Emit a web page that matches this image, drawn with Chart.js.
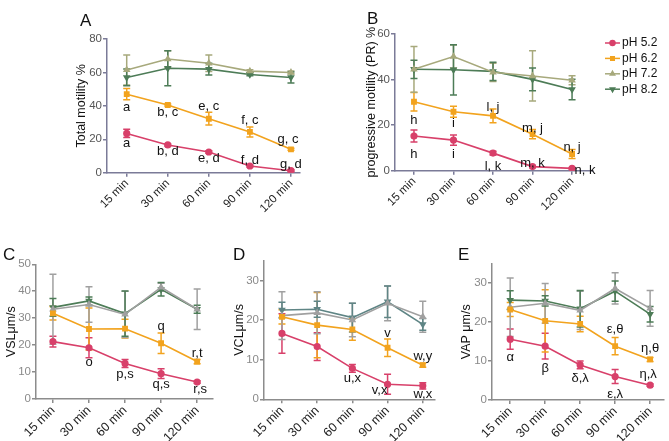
<!DOCTYPE html>
<html>
<head>
<meta charset="utf-8">
<script src="https://cdn.jsdelivr.net/npm/chart.js@4.4.0/dist/chart.umd.min.js"></script>
<style>
  body { margin: 0; background: #fff; width: 669px; height: 441px; position: relative; overflow: hidden; }
  canvas { position: absolute; }
</style>
</head>
<body>
<canvas id="chartA"></canvas>
<canvas id="chartB"></canvas>
<canvas id="chartC"></canvas>
<canvas id="chartD"></canvas>
<canvas id="chartE"></canvas>
<script>
// sperm motility vs time at 4 pH levels, 5 panels
const timeLabels = ['15 min', '30 min', '60 min', '90 min', '120 min'];
const groups = ['pH 5.2', 'pH 6.2', 'pH 7.2', 'pH 8.2'];

// A - total motility %
const total52 = [23.5, 16.6, 12.4, 4.0, 1.2];
const total52Err = [2.5, 0.6, 0.8, 0.6, 0.5];
const total62 = [47, 40.5, 32.3, 24.4, 14];
const total62Err = [3.4, 0.6, 3.8, 3, 0.6];
const total72 = [61.5, 68, 65.5, 60.8, 60];
const total72Err = [9, 5, 5, 0.8, 0.8];
const total82 = [57, 62.5, 62, 58.8, 57];
const total82Err = [5, 10.5, 3.5, 0.8, 3.3];
const totalNotes = [[0, 39.1, 'a'], [1, 35.9, 'b, c'], [2, 39.5, 'e, c'], [3, 31.1, 'f, c'], [4, 20, 'g, c', -3],
  [0, 17.6, 'a'], [1, 12.6, 'b, d'], [2, 8.6, 'e, d'], [3, 7.6, 'f, d'], [4, 5, 'g, d']];

// B - progressive motility (PR) %
const pr52 = [15.2, 13.4, 7.7, 1.8, 1.0];
const pr52Err = [2.6, 2.2, 0.8, 0.5, 0.3];
const pr62 = [30.2, 25.8, 24, 16, 7.3];
const pr62Err = [4, 2.4, 3, 2, 2];
const pr72 = [44.4, 50, 43.1, 41.5, 39.6];
const pr72Err = [10, 5, 4, 11, 2];
const pr82 = [44.4, 44.2, 43.5, 40, 35.6];
const pr82Err = [4, 11, 4, 5, 4.5];
const prNotes = [[0, 22.2, 'h'], [1, 20.7, 'i'], [2, 27.7, 'l, j'], [3, 18.4, 'm, j'], [4, 10.2, 'n, j'],
  [0, 7.2, 'h'], [1, 7.2, 'i'], [2, 1.75, 'l, k'], [3, 3.2, 'm, k'], [4, 0, 'n, k', 13]];

// C - VSL
const vsl52 = [21.3, 19, 13.2, 9.4, 6.3];
const vsl52Err = [2, 3.7, 1.5, 1.8, 0.5];
const vsl62 = [31.8, 26, 26.1, 20.7, 13.9];
const vsl62Err = [2.5, 7.8, 3.5, 3.8, 0.8];
const vsl72 = [33.3, 35.1, 31.4, 41.5, 33.3];
const vsl72Err = [13, 6.6, 8.6, 1.5, 7.5];
const vsl82 = [34, 36.4, 31.7, 40.7, 33.3];
const vsl82Err = [3.3, 1.5, 8.4, 2.5, 1.5];
const vslNotes = [[1, 13.6, 'o'], [2, 9.3, 'p,s'], [3, 27.1, 'q'], [3, 5.4, 'q,s'], [4, 17, 'r,t'], [4, 3.7, 'r,s', 3]];

// D - VCL
const vcl52 = [16.6, 13.3, 7.8, 3.8, 3.4];
const vcl52Err = [5, 3.5, 1, 2.5, 0.8];
const vcl62 = [20.8, 18.7, 17.6, 13, 8.6];
const vcl62Err = [1.8, 8.2, 2.7, 2.2, 0.5];
const vcl72 = [21.1, 21.8, 20, 24.2, 20.8];
const vcl72Err = [6, 5.3, 4.2, 4.4, 3.9];
const vcl82 = [22.5, 22.7, 20.6, 24.6, 18.9];
const vcl82Err = [2, 2, 3.6, 4, 1.5];
const vclNotes = [[3, 16.6, 'v'], [4, 10.8, 'w,y'], [2, 5.3, 'u,x'], [3, 2.35, 'v,x', -8], [4, 1.35, 'w,x']];

// E - VAP
const vap52 = [15.6, 13.8, 9, 6, 3.8];
const vap52Err = [2.6, 3.3, 1, 1.8, 0.3];
const vap62 = [23.2, 20.3, 19.5, 13.8, 10.4];
const vap62Err = [1.8, 8, 2, 2.2, 0.5];
const vap72 = [23.8, 24.8, 23, 28.6, 23.5];
const vap72Err = [7.5, 5.1, 4.9, 4, 4.6];
const vap82 = [25.6, 25.4, 23.4, 27.9, 22];
const vap82Err = [2.4, 1.3, 4.7, 2.6, 2];
const vapNotes = [[0, 10.9, 'α'], [1, 8, 'β'], [2, 5.6, 'δ,λ'], [3, 18, 'ε,θ'], [3, 1.5, 'ε,λ'], [4, 13.2, 'η,θ'], [4, 6.6, 'η,λ', -2]];

const RED = '#d8406a', ORANGE = '#f2a31e', OLIVE = '#a7a97c', GREEN = '#4d7c57', GRAY = '#a0a0a0', TEAL = '#5f8585';
const FONT = '"Liberation Sans", Arial, sans-serif';
Chart.defaults.font.family = FONT;

// vertical error bars with caps, colour of the line
const errorBars = {
  id: 'errorBars',
  beforeDatasetsDraw(chart) {
    const ctx = chart.ctx;
    const ys = chart.scales.y;
    chart.data.datasets.forEach((ds, i) => {
      if (!ds.err) return;
      const meta = chart.getDatasetMeta(i);
      ctx.save();
      ctx.strokeStyle = ds.borderColor;
      ctx.lineWidth = 1.5;
      meta.data.forEach((pt, j) => {
        const v = ds.raw[j];
        const top = ys.getPixelForValue(v + ds.err[j]);
        const bot = ys.getPixelForValue(Math.max(v - ds.err[j], 0));
        ctx.beginPath();
        ctx.moveTo(pt.x, top); ctx.lineTo(pt.x, bot);
        ctx.moveTo(pt.x - 3.5, top); ctx.lineTo(pt.x + 3.5, top);
        ctx.moveTo(pt.x - 3.5, bot); ctx.lineTo(pt.x + 3.5, bot);
        ctx.stroke();
      });
      ctx.restore();
    });
  }
};

function notesPlugin(notes, letter, legend) {
  return {
    id: 'notes',
    afterDraw(chart) {
      const ctx = chart.ctx;
      const xs = chart.scales.x, ys = chart.scales.y;
      ctx.save();
      ctx.fillStyle = '#111';
      ctx.font = '13px ' + FONT;
      ctx.textAlign = 'center';
      ctx.textBaseline = 'middle';
      notes.forEach(n => {
        ctx.fillText(n[2], xs.getPixelForValue(n[0]) + (n[3] || 0), ys.getPixelForValue(n[1]));
      });
      ctx.font = '17px ' + FONT;
      ctx.textAlign = 'left';
      ctx.fillText(letter[0], letter[1], letter[2]);
      if (legend) {
        ctx.font = '12px ' + FONT;
        chart.data.datasets.forEach((ds, i) => {
          const y = legend.y + i * 15.4;
          ctx.strokeStyle = ds.borderColor;
          ctx.fillStyle = ds.borderColor;
          ctx.lineWidth = 1.5;
          ctx.beginPath();
          ctx.moveTo(legend.x, y); ctx.lineTo(legend.x + 15, y);
          ctx.stroke();
          Chart.helpers.drawPoint(ctx, {
            pointStyle: ds.pointStyle, rotation: ds.pointRotation || 0,
            radius: 2.5, borderWidth: 1
          }, legend.x + 7.5, y);
          ctx.fillStyle = '#111';
          ctx.fillText(ds.label, legend.x + 17, y);
        });
      }
      ctx.restore();
    }
  };
}

function series(label, data, err, color, style, rot) {
  return {
    label, data, err,
    borderColor: color, backgroundColor: color,
    pointStyle: style, pointRotation: rot || 0,
    pointRadius: style === 'rect' ? 3 : 2.8,
    borderWidth: 1.6, tension: 0
  };
}

function buildPanel(cfg) {
  const [cx, cy, cw, ch] = cfg.box;
  const [l, t, r, b] = cfg.area;
  const canvas = document.getElementById(cfg.id);
  canvas.width = cw; canvas.height = ch;
  canvas.style.left = cx + 'px'; canvas.style.top = cy + 'px';
  const yWidth = l - cx, xHeight = cy + ch - b;
  if (cfg.legend) cfg.legend = { x: cfg.legend.x - cx, y: cfg.legend.y - cy };

  new Chart(canvas, {
    type: 'line',
    data: { datasets: cfg.series.map(s => ({ ...s, raw: s.data, data: s.data.map((v, i) => ({ x: i, y: v })) })) },
    options: {
      responsive: false,
      animation: false,
      layout: { padding: { left: 0, top: t - cy, right: cx + cw - r, bottom: 0 } },
      plugins: { legend: { display: false }, tooltip: { enabled: false } },
      scales: {
        x: {
          type: 'linear', min: cfg.xMin, max: cfg.xMax,
          afterBuildTicks: s => { s.ticks = timeLabels.map((_, i) => ({ value: i })); },
          afterFit: s => { s.height = xHeight; },
          ticks: {
            callback: v => timeLabels[v], minRotation: 45, maxRotation: 45,
            color: '#222', font: { size: cfg.xFont }, padding: 0
          },
          grid: { drawOnChartArea: false, tickLength: 4, color: cfg.axisColor, lineWidth: 1.5 },
          border: { color: cfg.axisColor, width: 1.5 }
        },
        y: {
          min: 0, max: cfg.yMax,
          afterBuildTicks: s => {
            const out = [];
            for (let v = 0; v <= cfg.yMax; v += cfg.yStep) out.push({ value: v });
            s.ticks = out;
          },
          afterFit: s => { s.width = yWidth; },
          ticks: { color: cfg.tickColor, font: { size: 11.5 }, padding: 1 },
          grid: { drawOnChartArea: false, tickLength: 4, color: cfg.axisColor, lineWidth: 1.5 },
          border: { color: cfg.axisColor, width: 1.5 },
          title: { display: true, text: cfg.yTitle, color: '#111', font: { size: 12.5 }, padding: { top: 2, bottom: 2 } }
        }
      }
    },
    plugins: [errorBars, notesPlugin(cfg.notes, [cfg.letter[0], cfg.letter[1] - cx, cfg.letter[2] - cy], cfg.legend)]
  });
}

// A and B use the olive/green pair, C-E the gray pair
buildPanel({
  id: 'chartA', box: [72, 8, 238, 212], area: [107, 39, 300, 172.7],
  xMin: -0.48, xMax: 4.22, yMax: 80, yStep: 20, yTitle: 'Total motility %', xFont: 11.5,
  letter: ['A', 80, 21], tickColor: '#555', axisColor: '#7b7b98', notes: totalNotes,
  series: [
    series(groups[0], total52, total52Err, RED, 'circle'),
    series(groups[1], total62, total62Err, ORANGE, 'rect'),
    series(groups[2], total72, total72Err, OLIVE, 'triangle'),
    series(groups[3], total82, total82Err, GREEN, 'triangle', 180)
  ]
});

buildPanel({
  id: 'chartB', box: [362, 5, 307, 215], area: [395, 33.7, 593, 170.7],
  xMin: -0.48, xMax: 4.53, yMax: 60, yStep: 20, yTitle: 'progressive motility (PR) %', xFont: 11.5,
  letter: ['B', 367, 19], tickColor: '#555', axisColor: '#7b7b98', notes: prNotes,
  legend: { x: 605, y: 43 },
  series: [
    series(groups[0], pr52, pr52Err, RED, 'circle'),
    series(groups[1], pr62, pr62Err, ORANGE, 'rect'),
    series(groups[2], pr72, pr72Err, OLIVE, 'triangle'),
    series(groups[3], pr82, pr82Err, GREEN, 'triangle', 180)
  ]
});

buildPanel({
  id: 'chartC', box: [2, 230, 218, 211], area: [36, 264.3, 213, 399],
  xMin: -0.47, xMax: 4.44, yMax: 50, yStep: 10, yTitle: 'VSLμm/s', xFont: 12.5,
  letter: ['C', 3, 255], tickColor: '#8a8a8a', axisColor: '#8c8c8c', notes: vslNotes,
  series: [
    series(groups[0], vsl52, vsl52Err, RED, 'circle'),
    series(groups[1], vsl62, vsl62Err, ORANGE, 'rect'),
    series(groups[2], vsl72, vsl72Err, GRAY, 'triangle'),
    series(groups[3], vsl82, vsl82Err, GREEN, 'triangle', 180)
  ]
});

buildPanel({
  id: 'chartD', box: [230, 230, 210, 211], area: [264, 260.5, 438, 399.3],
  xMin: -0.51, xMax: 4.33, yMax: 35, yStep: 10, yTitle: 'VCLμm/s', xFont: 12.5,
  letter: ['D', 233, 255], tickColor: '#8a8a8a', axisColor: '#8c8c8c', notes: vclNotes,
  series: [
    series(groups[0], vcl52, vcl52Err, RED, 'circle'),
    series(groups[1], vcl62, vcl62Err, ORANGE, 'rect'),
    series(groups[2], vcl72, vcl72Err, GRAY, 'triangle'),
    series(groups[3], vcl82, vcl82Err, TEAL, 'triangle', 180)
  ]
});

buildPanel({
  id: 'chartE', box: [457, 230, 212, 211], area: [492, 263.5, 669, 400],
  xMin: -0.52, xMax: 4.38, yMax: 35, yStep: 10, yTitle: 'VAP μm/s', xFont: 12.5,
  letter: ['E', 458, 255], tickColor: '#8a8a8a', axisColor: '#8c8c8c', notes: vapNotes,
  series: [
    series(groups[0], vap52, vap52Err, RED, 'circle'),
    series(groups[1], vap62, vap62Err, ORANGE, 'rect'),
    series(groups[2], vap72, vap72Err, GRAY, 'triangle'),
    series(groups[3], vap82, vap82Err, GREEN, 'triangle', 180)
  ]
});
</script>
</body>
</html>
